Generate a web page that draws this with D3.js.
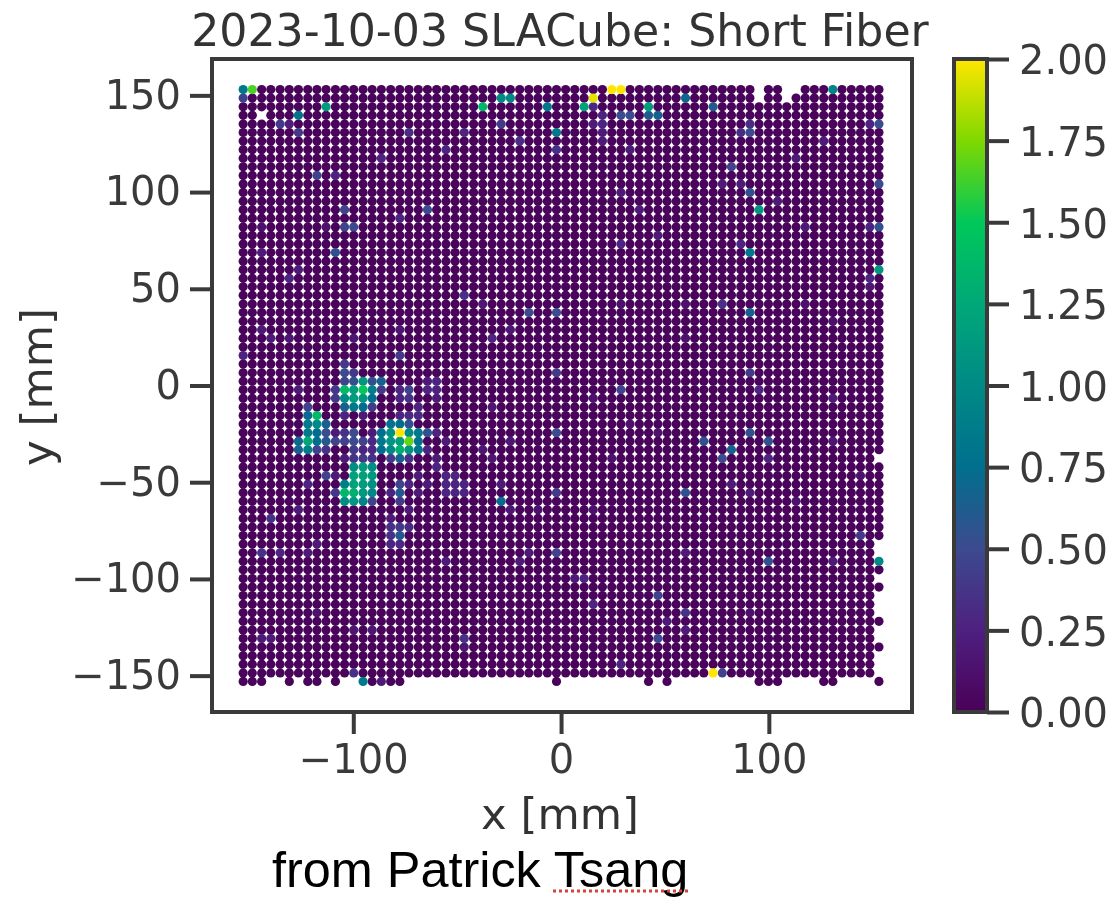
<!DOCTYPE html>
<html>
<head>
<meta charset="utf-8">
<script src="https://cdn.jsdelivr.net/npm/d3@7"></script>
<style>
    html, body { margin: 0; padding: 0; background: white; }
    svg { display: block; filter: blur(0.7px); }
    text { font-family: "DejaVu Sans"; fill: #333; }
</style>
</head>
<body>
<div class="chart"></div>
<script>
// pixel centres in mm, same for both directions
const gridX = [-153.0,-148.6,-144.1,-139.7,-135.2,-130.8,-126.4,-121.9,-117.5,-113.1,-108.6,-104.2,-99.8,-95.3,-90.9,-86.5,-82.0,-77.6,-73.2,-68.7,-64.3,-59.9,-55.4,-51.0,-46.6,-42.1,-37.7,-33.2,-28.8,-24.4,-19.9,-15.5,-11.1,-6.6,-2.2,2.2,6.6,11.1,15.5,19.9,24.4,28.8,33.2,37.7,42.1,46.6,51.0,55.4,59.9,64.3,68.7,73.2,77.6,82.0,86.5,90.9,95.3,99.8,104.2,108.6,113.1,117.5,121.9,126.4,130.8,135.2,139.7,144.1,148.6,153.0];
const gridY = gridX.slice().reverse();

const quietValue = 0.02;

// pixels with no data
const deadPixels = [[2,3],[56,0],[56,1],[59,0],[59,1],[60,0]];
const lastRowKept = [0,1,2,5,7,8,10,13,14,15,16,17,34,44,46,56,57,58,63,64,69];
const lastColDead = [43,53,54,57,59,60,61,63,64,66,67,68];

// [column, row, value], everything else is quiet
const topEdge = [[0,0,.85],[1,0,1.65],[0,1,.45],[9,2,1.15],[6,3,.8],[26,2,1.35],[28,1,1],[29,1,1],[33,2,.85],[34,5,.85],[40,0,2],[41,0,2],[38,1,1.95],[37,2,1.2],[44,2,1.15],[44,3,.6],[45,3,.65],[41,3,.5],[42,3,.5],[38,2,.3],[48,1,.7],[51,2,.6],[64,0,.95]];
const scattered = [[4,4,.4],[5,4,.22],[6,5,.4],[28,4,.4],[34,7,.35],[18,5,.32],[24,5,.27],[30,6,.32],[22,7,.27],[15,8,.27],[8,10,.45],[10,10,.27],[11,14,.45],[20,14,.5],[17,15,.27],[11,16,.45],[12,16,.5],[10,19,.55],[2,19,.2],[5,22,.27],[6,21,.2],[9,16,.13],[2,16,.13],
    [39,3,.27],[39,4,.27],[38,4,.2],[39,5,.2],[39,6,.2],[69,4,.5],[68,4,.27],[55,4,.32],[55,5,.5],[54,5,.32],[53,9,.45],[69,11,.5],[55,12,.55],[56,14,1.1],[69,16,.55],[68,16,.27],[55,19,.85],[69,21,1.1],[68,22,.27],[41,18,.27],[54,18,.27],[61,16,.2],[60,8,.2],[63,6,.2],[58,13,.2],[52,11,.2],[54,11,.2],[41,12,.2],[43,14,.2],[42,7,.2],[45,17,.2],
    [68,23,.17],[64,36,.2],[67,52,.4],[64,41,.17],[67,45,.13],[60,48,.13],[61,25,.13],[64,27,.13],
    [31,26,.5],[34,26,.5],[55,26,.65],[52,25,.35],[27,29,.27],[29,28,.17],[34,33,.4],[55,33,.4],[41,35,.45],[56,35,.27],[34,40,.5],[55,40,.55],[50,41,.55],[57,41,.55],[53,42,.65],[52,43,.5],[57,43,.27],[48,47,.55],[34,47,.4],[28,48,.7],[53,46,.2],[55,47,.2],[57,55,.55],[34,54,.45],[48,54,.2],[30,55,.2],[31,54,.2],[29,41,.17],[27,37,.17],[26,42,.17],[27,43,.17],[28,46,.2],[40,43,.13],[38,36,.13],[29,49,.17],[32,49,.13],[38,49,.13],[45,40,.13],[42,39,.13],[26,25,.17],[41,25,.13],[48,25,.13],[48,29,.13],
    [3,50,.35],[6,49,.2],[0,31,.27],[24,24,.35],[2,28,.2],[3,29,.2],[5,29,.17],[12,29,.17],[17,28,.17],[2,54,.35],[4,54,.27],[8,53,.2],[7,54,.2]];
const bottomEdge = [[13,69,.85],[15,69,.2],[12,68,.35],[51,68,2],[52,68,.45],[41,67,.27],[45,64,.5],[48,61,.35],[45,59,.45],[48,63,.2],[46,62,.2],[37,57,.27],[36,57,.2],[38,60,.27],[57,55,.55],[64,55,.2],[55,61,.13],[2,64,.2],[3,64,.2],[24,64,.35],[24,65,.17],[12,63,.17],[14,63,.17],[8,61,.13],[22,55,.2],[69,55,1]];
const clusterTop = [[11,35,1.4],[13,35,1.5],[13,34,1.1],[12,35,1.15],[14,35,.9],[15,34,.65],[11,34,.45],[12,34,.55],[14,34,.55],[11,36,1],[12,36,1.15],[13,36,1.1],[14,36,.75],[15,35,.4],[11,37,.65],[12,37,.85],[13,37,.75],[14,37,.4],[10,35,.4],[10,36,.4],[11,33,.5],[12,33,.4],[11,32,.4],[11,38,.27],[13,38,.2]];
const clusterLeft = [[8,38,1.4],[7,37,.45],[7,38,.7],[7,39,.85],[8,39,1],[9,39,.65],[7,40,.85],[8,40,.75],[9,40,.5],[6,41,.7],[7,41,1.25],[8,41,.75],[9,41,.6],[10,41,.45],[6,42,.65],[7,42,.9],[8,42,.45],[9,42,.35],[6,35,.2]];
const clusterCentre = [[17,40,2],[18,41,1.7],[16,39,.8],[17,39,.75],[18,39,.55],[15,40,.75],[16,40,1.05],[18,40,1],[19,40,.85],[20,40,.55],[15,41,.85],[16,41,1.1],[17,41,1.15],[19,41,.8],[15,42,.75],[16,42,1],[17,42,1.3],[18,42,1.1],[19,42,.8],[17,43,.65],[16,43,.4],[18,43,.35],
    [12,40,.5],[11,40,.35],[14,40,.2],[11,41,.45],[12,41,.5],[13,41,.45],[14,41,.3],[12,42,.4],[13,42,.27],[14,42,.3],[10,40,.2]];
const clusterLow = [[12,44,1.05],[13,44,1.15],[14,44,1.05],[12,45,1.2],[13,45,1.2],[14,45,1.1],[11,46,.9],[12,46,1.2],[13,46,1.15],[14,46,1.05],[11,47,1.35],[12,47,1.3],[13,47,1.1],[14,47,.95],[10,47,.4],[11,48,1.05],[12,48,1.1],[13,48,.95],[14,48,.45],[11,43,.2],[12,43,.35],[13,43,.4],[14,43,.35],[9,45,.45],[10,45,.2],[7,46,.27]];
const halo = [[17,46,.45],[17,47,.6],[17,48,.4],[16,47,.27],[18,46,.27],[17,52,.6],[17,51,.4],[16,51,.35],[16,52,.35],[18,51,.3],[16,50,.2],[18,49,.2],[17,53,.3],[16,53,.27],[17,31,.4],
    [20,35,.27],[21,35,.27],[18,35,.45],[17,35,.3],[18,36,.35],[17,36,.27],[20,34,.2],[21,34,.27],[21,36,.2],[19,37,.27],[19,38,.3],[18,38,.3],[17,38,.27],[21,40,.27],[22,41,.2],[20,42,.27],[21,43,.2],
    [21,44,.27],[22,45,.27],[23,45,.27],[22,46,.27],[23,46,.27],[24,46,.27],[22,47,.27],[23,47,.27],[24,47,.27],[19,45,.2],[20,46,.2],[19,47,.2]];

// colorbar as it looks in the screenshot, a bit more saturated than plain viridis
const cmapValues = [0, 0.25, 0.5, 0.75, 1, 1.25, 1.5, 1.75, 2];
const cmapColors = ["#4a0058","#4e2080","#3c4a8e","#006f8e","#008a86","#00a878","#00c85a","#7fd800","#ffe600"];
const cbarTicks = [0, 0.25, 0.5, 0.75, 1, 1.25, 1.5, 1.75, 2];
const xTicks = [-100, 0, 100];
const yTicks = [-150, -100, -50, 0, 50, 100, 150];

const width = 1114, height = 901;
const margin = ({top: 59, right: 202, bottom: 189, left: 212});
const w = width - margin.left - margin.right;
const h = height - margin.top - margin.bottom;

const svg = d3.select(".chart").append("svg")
    .attr("width", width)
    .attr("height", height);

const g = svg.append("g")
    .attr("transform", `translate(${margin.left},${margin.top})`);

const xScale = d3.scaleLinear().domain([-168, 168.9]).range([0, w]);
const yScale = d3.scaleLinear().domain([-168.8, 168.8]).range([h, 0]);
const color = d3.scaleLinear().domain(cmapValues).range(cmapColors);

// build the readout
const valueOf = new Map();
[topEdge, scattered, bottomEdge, clusterTop, clusterLeft, clusterCentre, clusterLow, halo].forEach(list => {
    list.forEach(d => valueOf.set(d[0] + "_" + d[1], d[2]));
});
const dead = new Set(deadPixels.map(d => d[0] + "_" + d[1]));
const points = [];
gridY.forEach((y, row) => {
    gridX.forEach((x, col) => {
        if (dead.has(col + "_" + row)) return;
        if (row === 69 && !lastRowKept.includes(col)) return;
        if (col === 69 && lastColDead.includes(row)) return;
        const key = col + "_" + row;
        points.push({x: x, y: y, v: valueOf.has(key) ? valueOf.get(key) : quietValue});
    });
});
points.sort((a, b) => a.v - b.v);

g.selectAll("circle")
    .data(points)
    .join("circle")
    .attr("cx", d => xScale(d.x))
    .attr("cy", d => yScale(d.y))
    .attr("r", 4.6)
    .attr("fill", d => color(d.v));

function styleAxis(sel) {
    sel.selectAll(".tick line").attr("stroke", "#3a3a3a").attr("stroke-width", 4);
    sel.selectAll(".tick text").attr("font-size", 40).style("fill", "#3a3a3a");
    sel.select(".domain").remove();
}

g.append("g")
    .attr("transform", `translate(0,${h})`)
    .call(d3.axisBottom(xScale).tickValues(xTicks).tickSize(22).tickPadding(11))
    .call(styleAxis);

g.append("g")
    .call(d3.axisLeft(yScale).tickValues(yTicks).tickSize(22).tickPadding(9))
    .call(styleAxis);

// frame
g.append("rect")
    .attr("width", w)
    .attr("height", h)
    .attr("fill", "none")
    .attr("stroke", "#3a3a3a")
    .attr("stroke-width", 4);

svg.append("text")
    .attr("x", 560)
    .attr("y", 46)
    .attr("text-anchor", "middle")
    .attr("font-size", 44.2)
    .text("2023-10-03 SLACube: Short Fiber");

svg.append("text")
    .attr("x", 560)
    .attr("y", 829)
    .attr("text-anchor", "middle")
    .attr("font-size", 43.4)
    .text("x [mm]");

svg.append("text")
    .attr("transform", "translate(52,387) rotate(-90)")
    .attr("text-anchor", "middle")
    .attr("font-size", 43.4)
    .text("y [mm]");

// colorbar
const cbar = svg.append("g").attr("transform", `translate(954,${margin.top})`);
const cbarW = 33;
const cbarScale = d3.scaleLinear().domain([0, 2]).range([h, 0]);

const grad = svg.append("defs").append("linearGradient")
    .attr("id", "cmap")
    .attr("x1", 0).attr("x2", 0).attr("y1", 1).attr("y2", 0);
grad.selectAll("stop")
    .data(cmapValues)
    .join("stop")
    .attr("offset", d => d / 2)
    .attr("stop-color", d => color(d));

cbar.append("rect")
    .attr("width", cbarW)
    .attr("height", h)
    .attr("fill", "url(#cmap)")
    .attr("stroke", "#3a3a3a")
    .attr("stroke-width", 4);

cbar.append("g")
    .attr("transform", `translate(${cbarW},0)`)
    .call(d3.axisRight(cbarScale).tickValues(cbarTicks).tickFormat(d3.format(".2f")).tickSize(22).tickPadding(10))
    .call(g => g.selectAll(".tick text").attr("dy", "0.37em"))
    .call(styleAxis);

// note pasted under the figure
svg.append("text")
    .attr("x", 272)
    .attr("y", 887)
    .attr("font-size", 50.4)
    .style("font-family", "Liberation Sans")
    .style("fill", "#000")
    .text("from Patrick Tsang");

svg.append("line")
    .attr("x1", 553)
    .attr("x2", 689)
    .attr("y1", 891)
    .attr("y2", 891)
    .attr("stroke", "#d9423a")
    .attr("stroke-width", 3)
    .attr("stroke-dasharray", "3,3");
</script>
</body>
</html>
